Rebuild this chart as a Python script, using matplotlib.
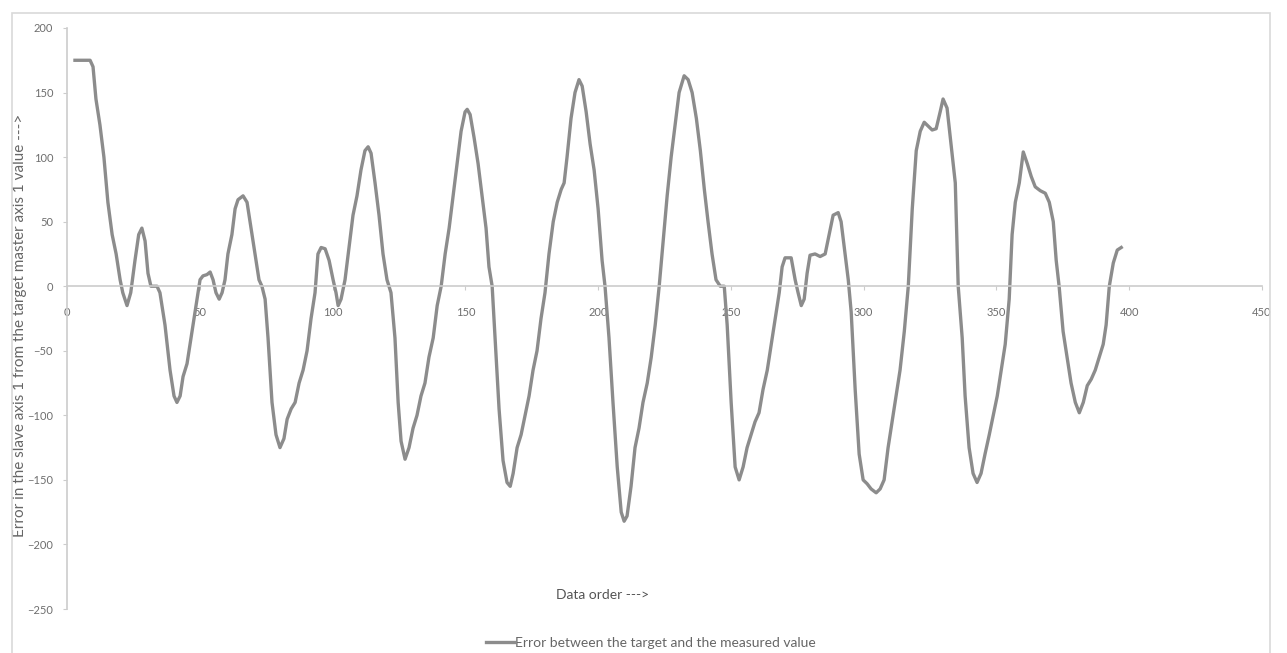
import matplotlib
matplotlib.use("Agg")
import matplotlib.pyplot as plt
from matplotlib.patches import Rectangle

# Data order (x) and error values (y)
data_order = [3, 8.7, 9.8, 10.9, 12.4, 13.9, 15.4, 17, 18.5, 20, 21, 22.6, 24, 25.6, 27, 28.2, 29.4, 30.5, 31.6,
              33.9, 35, 36.9, 38.8, 40.3, 41.4, 42.6, 43.7, 45.2, 46.7, 48.2, 50.1, 51.2, 52.7, 53.9, 55, 56.1,
              57.3, 58.4, 59.5, 60.6, 62.1, 63.3, 64.4, 66.3, 67.8, 69.3, 70.8, 72.3, 73.4, 74.6, 75.7, 77.2,
              78.7, 80.2, 81.7, 82.9, 84.4, 85.9, 87.4, 88.9, 90.4, 91.9, 93.4, 94.5, 95.7, 97.2, 98.7, 100.2,
              101.3, 102.1, 103.2, 104.7, 106.2, 107.7, 109.2, 110.7, 112.2, 113.4, 114.5, 116, 117.5, 119,
              120.5, 122, 123.5, 124.7, 125.8, 127.3, 128.8, 130.3, 131.8, 133.3, 134.8, 136.3, 137.9, 139.4,
              140.9, 142.4, 143.9, 145.4, 146.9, 148.4, 149.9, 150.7, 151.8, 153.3, 154.8, 156.3, 157.8, 158.9,
              160.1, 161.2, 162.7, 164.2, 165.7, 166.9, 168, 169.5, 171, 172.5, 174, 175.5, 177, 178.5, 180,
              181.5, 183.1, 184.6, 186.1, 187.2, 188.3, 189.8, 191.3, 192.8, 194, 195.5, 197, 198.5, 200,
              201.5, 202.6, 204.1, 205.6, 207.2, 208.7, 209.8, 210.9, 212.4, 213.9, 215.4, 216.9, 218.5, 220,
              221.5, 223, 224.5, 226, 227.5, 229, 230.5, 232.4, 233.9, 235.4, 237, 238.5, 240, 241.4, 242.9,
              244.4, 246, 247.5, 248.6, 250.1, 251.6, 253.1, 254.6, 256.1, 257.6, 259.1, 260.6, 262.1, 263.7,
              265.2, 266.7, 268.2, 269.3, 270.4, 272.7, 274.2, 275.3, 276.5, 277.6, 278.7, 279.8, 281.7, 283.6,
              285.5, 287, 288.5, 290.4, 291.5, 293, 294.2, 295.3, 296.8, 298.3, 299.8, 301.3, 302.8, 304.7,
              306.2, 307.7, 309.2, 310.7, 312.2, 313.7, 315.3, 316.8, 318.3, 319.8, 321.3, 322.8, 324.3, 325.8,
              327.3, 328.8, 329.9, 331.4, 332.9, 334.5, 335.6, 337.1, 338.2, 339.7, 341.2, 342.7, 344.2, 345.7,
              347.3, 348.8, 350.3, 351.8, 353.3, 354.8, 355.9, 357.1, 358.6, 360.1, 361.6, 363.1, 364.6, 366.5,
              368.4, 369.9, 371.4, 372.5, 373.6, 375.1, 376.6, 378.1, 379.7, 381.2, 382.7, 384.2, 385.7, 387.2,
              388.7, 390.2, 391.3, 392.5, 394, 395.5, 397]
error_values = [175, 175, 170, 145, 125, 100, 65, 40, 25, 5, -5, -15, -5, 20, 40, 45, 35, 10, 0,
                0, -5, -30, -65, -85, -90, -85, -70, -60, -40, -20, 5, 8, 9, 11, 5, -5,
                -10, -5, 5, 25, 40, 60, 67, 70, 65, 45, 25, 5, 0, -10, -40, -90,
                -115, -125, -118, -103, -95, -90, -75, -65, -50, -25, -5, 25, 30, 29, 20, 5,
                -5, -15, -10, 5, 30, 55, 70, 90, 105, 108, 103, 80, 55, 25,
                5, -5, -40, -90, -120, -134, -125, -110, -100, -85, -75, -55, -40, -15,
                0, 25, 45, 70, 95, 120, 135, 137, 133, 115, 95, 70, 45, 15,
                0, -40, -95, -135, -152, -155, -145, -125, -115, -100, -85, -65, -50, -25, -5,
                25, 50, 65, 75, 80, 100, 130, 150, 160, 155, 135, 110, 90, 60,
                20, 0, -40, -90, -140, -175, -182, -178, -155, -125, -110, -90, -75, -55,
                -30, 0, 35, 70, 100, 125, 150, 163, 160, 150, 130, 105, 75, 50, 25,
                5, 0, 0, -30, -90, -140, -150, -140, -125, -115, -105, -98, -80, -65,
                -45, -25, -5, 15, 22, 22, 5, -5, -15, -10, 10, 24, 25, 23,
                25, 40, 55, 57, 50, 25, 5, -20, -80, -130, -150, -153, -157, -160,
                -157, -150, -125, -105, -85, -65, -35, 0, 60, 105, 120, 127, 124, 121,
                122, 135, 145, 138, 110, 80, 0, -40, -85, -125, -145, -152, -145, -130,
                -115, -100, -85, -65, -45, -10, 40, 65, 80, 104, 95, 85, 77, 74,
                72, 65, 50, 20, 0, -35, -55, -75, -90, -98, -90, -77, -72, -65,
                -55, -45, -30, 0, 18, 28, 30]

x_ticks = [0, 50, 100, 150, 200, 250, 300, 350, 400, 450]
y_ticks = [-250, -200, -150, -100, -50, 0, 50, 100, 150, 200]

series_label = "Error between the target and the measured value"
x_label = "Data order --->"
y_label = "Error in the slave axis 1 from the target master axis 1 value --->"

plt.rcParams["font.family"] = ["Lato", "DejaVu Sans"]

W, H = 1287, 653
fig = plt.figure(figsize=(W / 100, H / 100), dpi=100)
fig.patch.set_facecolor("white")

# outer chart-area frame
fig.patches.append(Rectangle((12 / W, -0.05), (1270 - 12) / W, 1 - 13 / H + 0.05,
                             transform=fig.transFigure, fill=False,
                             edgecolor="#d9d9d9", linewidth=1.2))

ax = fig.add_axes([67 / W, 1 - 609 / H, (1262 - 67) / W, (609 - 28) / H])
line, = ax.plot(data_order, error_values, color="#8c8c8c", linewidth=2.4,
                solid_joinstyle="round", label=series_label)

ax.set_xlim(0, 450)
ax.set_ylim(-250, 200)
ax.set_xticks(x_ticks)
ax.set_yticks(y_ticks)

for s in ["top", "right"]:
    ax.spines[s].set_visible(False)
ax.spines["bottom"].set_position(("data", 0))
ax.spines["bottom"].set_color("#cccccc")
ax.spines["left"].set_color("#cccccc")
ax.spines["bottom"].set_linewidth(1.2)
ax.spines["left"].set_linewidth(1.2)

ax.tick_params(axis="x", direction="out", length=3, color="#cccccc",
               labelsize=8, labelcolor="#6e6e6e", pad=12)
ax.tick_params(axis="y", direction="out", length=3, color="#cccccc",
               labelsize=8, labelcolor="#6e6e6e", pad=7)

ax.set_ylabel(y_label, fontsize=11, color="#666666")
ax.yaxis.set_label_coords((27 - 67) / (1262 - 67), (609 - 325) / (609 - 28))

fig.text(603 / W, 1 - 595 / H, x_label, ha="center", va="center",
         fontsize=10, color="#555555")

fig.legend(handles=[line], labels=[series_label], loc="center",
           bbox_to_anchor=(651 / W, 1 - 643 / H), frameon=False,
           fontsize=10, handlelength=2.0, handletextpad=0.1, labelcolor="#666666")

fig.savefig("out.png", dpi=100)
